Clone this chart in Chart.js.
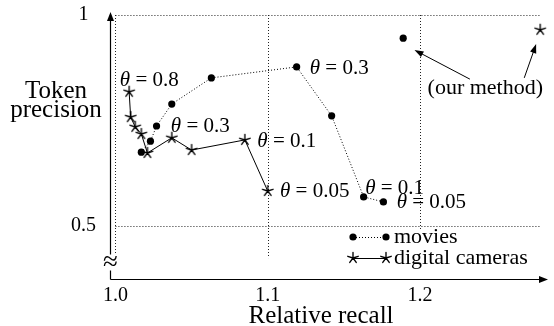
<!DOCTYPE html>
<html>
<head>
<meta charset="utf-8">
<script src="https://cdn.jsdelivr.net/npm/chart.js@4.4.1/dist/chart.umd.min.js"></script>
<style>
  body { margin: 0; background: #fff; }
</style>
</head>
<body>
<canvas id="chart" width="554" height="326"></canvas>
<script>
// movies (dotted, circles) and digital cameras (solid, stars), theta going from 0.8 down to 0.05
var moviesRecall     = [1.017, 1.023, 1.027, 1.037, 1.063, 1.119, 1.142, 1.163, 1.176]
var moviesPrecision  = [0.675, 0.701, 0.737, 0.789, 0.851, 0.877, 0.761, 0.569, 0.557]
var camerasRecall    = [1.009, 1.010, 1.013, 1.017, 1.021, 1.037, 1.050, 1.085, 1.100]
var camerasPrecision = [0.818, 0.758, 0.735, 0.718, 0.673, 0.709, 0.680, 0.704, 0.583]

// our method: [recall, precision]
var oursMovies  = [1.189, 0.945]
var oursCameras = [1.279, 0.965]

var xTicks = [1.0, 1.1, 1.2]
var xTickLabels = ['1.0', '1.1', '1.2']
var yTicks = [0.5, 1]
var yTickLabels = ['0.5', '1']

// theta notes: [recall, precision, value], text starts at that point
var thetaLabels = [
  [1.0029, 0.846, '0.8'],
  [1.0364, 0.736, '0.3'],
  [1.0932, 0.701, '0.1'],
  [1.1081, 0.581, '0.05'],
  [1.1276, 0.874, '0.3'],
  [1.1640, 0.590, '0.1'],
  [1.1847, 0.555, '0.05']
]

// "(our method)" note and its two arrows [fromX, fromY, toX, toY]
var oursNote = [1.2429, 0.827, '(our method)']
var oursArrows = [
  [1.2328, 0.848, 1.1964, 0.917],
  [1.2685, 0.851, 1.2763, 0.931]
]

var serif = '"Liberation Serif", "Times New Roman", serif'

function makeStar(r, lw) {
  var c = document.createElement('canvas')
  var s = 2 * Math.ceil(r + 2)
  c.width = s
  c.height = s
  var g = c.getContext('2d')
  g.strokeStyle = '#000'
  g.lineWidth = lw
  g.lineCap = 'round'
  g.beginPath()
  for (var i = 0; i < 5; i++) {
    var a = -Math.PI / 2 + i * 2 * Math.PI / 5
    g.moveTo(s / 2, s / 2)
    g.lineTo(s / 2 + r * Math.cos(a), s / 2 + r * Math.sin(a))
  }
  g.stroke()
  return c
}
var star = makeStar(5.5, 1.35)

function points(xs, ys) {
  return xs.map(function (x, i) { return {x: x, y: ys[i]} })
}

function arrow(ctx, x1, y1, x2, y2, len, wid) {
  var a = Math.atan2(y2 - y1, x2 - x1)
  var c = Math.cos(a), s = Math.sin(a)
  ctx.beginPath()
  ctx.moveTo(x1, y1)
  ctx.lineTo(x2 - c * len * 0.7, y2 - s * len * 0.7)
  ctx.stroke()
  ctx.beginPath()
  ctx.moveTo(x2, y2)
  ctx.lineTo(x2 - len * c + wid * s, y2 - len * s - wid * c)
  ctx.lineTo(x2 - len * c - wid * s, y2 - len * s + wid * c)
  ctx.closePath()
  ctx.fill()
}

function drawTheta(ctx, x, y, val) {
  ctx.textAlign = 'left'
  ctx.textBaseline = 'middle'
  ctx.font = 'italic 21px ' + serif
  ctx.fillText('θ', x, y)
  var w = ctx.measureText('θ').width
  ctx.font = '21px ' + serif
  ctx.fillText(' = ' + val, x + w, y)
}

var decor = {
  id: 'decor',
  beforeDatasetsDraw: function (chart) {
    var ctx = chart.ctx, xs = chart.scales.x, ys = chart.scales.y, area = chart.chartArea
    ctx.save()
    // dotted grid
    ctx.strokeStyle = '#222'
    ctx.lineWidth = 1
    ctx.setLineDash([1, 2])
    var gx0 = xs.getPixelForValue(1.0), gx1 = xs.getPixelForValue(1.279)
    var gy0 = ys.getPixelForValue(1.0), gy1 = ys.getPixelForValue(0.424)
    xTicks.forEach(function (v) {
      var px = Math.round(xs.getPixelForValue(v)) + 0.5
      ctx.beginPath(); ctx.moveTo(px, gy0); ctx.lineTo(px, gy1); ctx.stroke()
    })
    yTicks.forEach(function (v) {
      var py = Math.round(ys.getPixelForValue(v)) + 0.5
      ctx.beginPath(); ctx.moveTo(gx0, py); ctx.lineTo(gx1, py); ctx.stroke()
    })
    ctx.setLineDash([])
    // axes with arrow heads
    ctx.strokeStyle = '#000'
    ctx.fillStyle = '#000'
    ctx.lineWidth = 1.2
    var l = Math.round(area.left) + 0.5, b = Math.round(area.bottom) + 0.5
    arrow(ctx, l, b, l, area.top, 9, 3.5)
    arrow(ctx, l, b, area.right, b, 9, 3.5)
    // axis break
    ctx.fillStyle = '#fff'
    ctx.fillRect(l - 7, b - 25, 14, 16)
    ctx.fillStyle = '#000'
    ctx.font = '27px ' + serif
    ctx.textAlign = 'center'
    ctx.textBaseline = 'middle'
    ctx.fillText('≈', l, b - 17)
    ctx.restore()
  },
  afterDraw: function (chart) {
    var ctx = chart.ctx, xs = chart.scales.x, ys = chart.scales.y, area = chart.chartArea
    ctx.save()
    ctx.fillStyle = '#000'
    ctx.strokeStyle = '#000'
    thetaLabels.forEach(function (t) {
      drawTheta(ctx, xs.getPixelForValue(t[0]), ys.getPixelForValue(t[1]), t[2])
    })
    // our method note
    ctx.font = '22px ' + serif
    ctx.textAlign = 'center'
    ctx.textBaseline = 'middle'
    ctx.fillText(oursNote[2], xs.getPixelForValue(oursNote[0]), ys.getPixelForValue(oursNote[1]))
    ctx.lineWidth = 1
    oursArrows.forEach(function (a) {
      arrow(ctx, xs.getPixelForValue(a[0]), ys.getPixelForValue(a[1]),
            xs.getPixelForValue(a[2]), ys.getPixelForValue(a[3]), 9, 3.2)
    })
    // axis titles
    ctx.font = '25px ' + serif
    ctx.textBaseline = 'alphabetic'
    ctx.fillText('Token', 56, 98)
    ctx.fillText('precision', 56, 117)
    ctx.fillText('Relative recall', area.left + 211, 323)
    // legend
    var lx = area.left + 233, ly = area.top + 217
    ctx.fillStyle = '#fff'
    ctx.fillRect(lx, ly, 200, 38)
    ctx.fillStyle = '#000'
    var r1 = ly + 8, r2 = ly + 29
    ctx.lineWidth = 1
    ctx.setLineDash([1, 2])
    ctx.beginPath(); ctx.moveTo(lx + 10, r1 + 0.5); ctx.lineTo(lx + 43, r1 + 0.5); ctx.stroke()
    ctx.setLineDash([])
    ctx.beginPath(); ctx.arc(lx + 10, r1, 3.6, 0, 2 * Math.PI); ctx.fill()
    ctx.beginPath(); ctx.arc(lx + 43, r1, 3.6, 0, 2 * Math.PI); ctx.fill()
    ctx.lineWidth = 1
    ctx.beginPath(); ctx.moveTo(lx + 10, r2 + 0.5); ctx.lineTo(lx + 43, r2 + 0.5); ctx.stroke()
    ctx.drawImage(star, lx + 10 - star.width / 2, r2 - star.height / 2)
    ctx.drawImage(star, lx + 43 - star.width / 2, r2 - star.height / 2)
    ctx.font = '22px ' + serif
    ctx.textAlign = 'left'
    ctx.textBaseline = 'middle'
    ctx.fillText('movies', lx + 51, r1)
    ctx.fillText('digital cameras', lx + 51, r2)
    ctx.restore()
  }
}

var config = {
  type: 'scatter',
  data: {
    datasets: [{
      label: 'movies',
      data: points(moviesRecall, moviesPrecision),
      showLine: true,
      borderColor: '#000',
      borderWidth: 1,
      borderDash: [1, 2],
      pointStyle: 'circle',
      pointRadius: 3.6,
      pointBorderWidth: 0,
      pointBackgroundColor: '#000'
    }, {
      label: 'digital cameras',
      data: points(camerasRecall, camerasPrecision),
      showLine: true,
      borderColor: '#000',
      borderWidth: 1,
      pointStyle: star,
      pointRadius: 5
    }, {
      label: 'movies (our method)',
      data: [{x: oursMovies[0], y: oursMovies[1]}],
      pointStyle: 'circle',
      pointRadius: 3.6,
      pointBorderWidth: 0,
      pointBackgroundColor: '#000'
    }, {
      label: 'digital cameras (our method)',
      data: [{x: oursCameras[0], y: oursCameras[1]}],
      pointStyle: star,
      pointRadius: 5
    }]
  },
  options: {
    responsive: false,
    animation: false,
    devicePixelRatio: 1,
    layout: { padding: { top: 12, right: 1, left: 0, bottom: 0 } },
    plugins: { legend: { display: false }, tooltip: { enabled: false } },
    scales: {
      x: {
        type: 'linear',
        min: 0.99643,
        max: 1.28409,
        afterBuildTicks: function (axis) { axis.ticks = xTicks.map(function (v) { return {value: v} }) },
        afterFit: function (scale) { scale.height = 47; scale.paddingLeft = 0; scale.paddingRight = 0 },
        grid: { display: false, drawTicks: false },
        border: { display: false },
        ticks: {
          padding: 5,
          maxRotation: 0,
          autoSkip: false,
          color: '#000',
          font: { family: serif, size: 20 },
          callback: function (v, i) { return xTickLabels[i] }
        }
      },
      y: {
        type: 'linear',
        min: 0.37441,
        max: 1.00711,
        afterBuildTicks: function (axis) { axis.ticks = yTicks.map(function (v) { return {value: v} }) },
        afterFit: function (scale) { scale.width = 110; scale.paddingTop = 0; scale.paddingBottom = 0 },
        grid: { display: false, drawTicks: false },
        border: { display: false },
        ticks: {
          padding: 14,
          crossAlign: 'center',
          autoSkip: false,
          color: '#000',
          font: { family: serif, size: 20 },
          callback: function (v, i) { return yTickLabels[i] }
        }
      }
    }
  },
  plugins: [decor]
}

new Chart(document.getElementById('chart').getContext('2d'), config)
</script>
</body>
</html>
